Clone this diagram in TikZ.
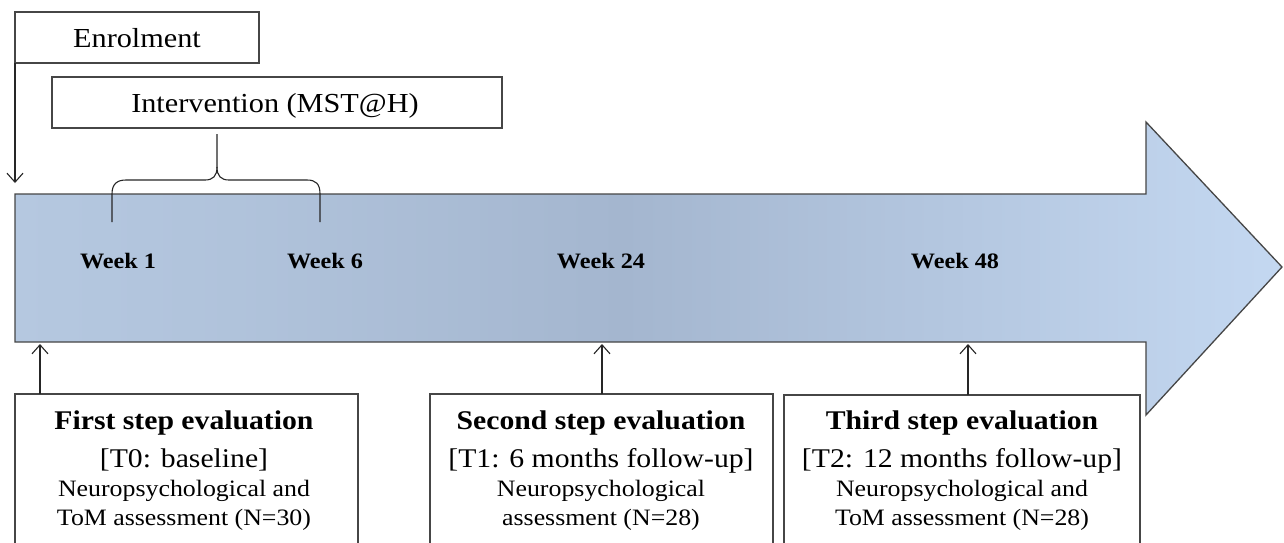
\documentclass[tikz,border=0pt]{standalone}
\usepackage{fontspec}
\setmainfont{Liberation Serif}[FakeStretch=1.1]
\usetikzlibrary{arrows.meta}
\definecolor{arrowL}{RGB}{181,200,224}
\definecolor{arrowM}{RGB}{164,182,207}
\definecolor{arrowR}{RGB}{196,216,241}
\definecolor{edge}{RGB}{70,70,70}
\pgfdeclarehorizontalshading{arrowsh}{100bp}{color(0bp)=(arrowL); color(25bp)=(arrowL); color(34bp)=(arrowL!70!arrowM); color(49bp)=(arrowM); color(75bp)=(arrowR); color(100bp)=(arrowR)}
\begin{document}
\begin{tikzpicture}[x=1pt,y=-1pt,
  boxst/.style={draw=edge, line width=1.3pt, fill=white, inner sep=0pt, outer sep=0pt},
  bracest/.style={draw=black!85, line width=1.1pt},
  tipst/.style={draw=black!85, line width=1.1pt, -{Straight Barb[length=9pt,width=16pt,line width=1.1pt]}},
  wk/.style={font=\bfseries\fontsize{22}{26}\selectfont, anchor=base},
  headst/.style={font=\bfseries\fontsize{27}{32}\selectfont, anchor=base},
  subst/.style={font=\fontsize{27}{32}\selectfont, anchor=base},
  bodyst/.style={font=\fontsize{23.5}{28}\selectfont, anchor=base},
  topst/.style={font=\fontsize{27.5}{32}\selectfont, anchor=base}]
\clip (0,0) rectangle (1284,542);
\fill[white] (0,0) rectangle (1284,542);
% big arrow
\path[shading=arrowsh] (15,194) -- (1146,194) -- (1146,122) -- (1282,267) -- (1146,415) -- (1146,342) -- (15,342) -- cycle;
\draw[draw=edge, line width=1.3pt, line join=miter]
  (15,194) -- (1146,194) -- (1146,122) -- (1282,267) -- (1146,415) -- (1146,342) -- (15,342) -- cycle;
\coordinate (enr) at (15,183);
\coordinate (a1) at (40,344);
\coordinate (a2) at (602,344);
\coordinate (a3) at (968,344);
% top boxes
\node[boxst, minimum width=244pt, minimum height=51pt, anchor=north west] (enrol) at (15,12) {};
\node[topst] (enrolt) at (137,47) {Enrolment};
\node[boxst, minimum width=450pt, minimum height=51pt, anchor=north west] (inter) at (52,77) {};
\node[topst] (intert) at (275,112) {Intervention (MST@H)};
\draw[tipst] (enrol.south west) -- (enr);
% brace
\coordinate (bt) at (217,134);
\draw[bracest] (bt) -- (217,167) .. controls (217,176) and (213,180) .. (205,180) -- (126,180)
  .. controls (117,180) and (112,184) .. (112,194) -- (112,222);
\draw[bracest] (217,167) .. controls (217,176) and (221,180) .. (229,180) -- (307,180)
  .. controls (316,180) and (320,184) .. (320,194) -- (320,222);
% week labels
\node[wk] (w1) at (118,268) {Week 1};
\node[wk] (w6) at (325,268) {Week 6};
\node[wk] (w24) at (601,268) {Week 24};
\node[wk] (w48) at (955,268) {Week 48};
% bottom boxes
\node[boxst, minimum width=343pt, minimum height=170pt, anchor=north west] (b1) at (15,394) {};
\node[boxst, minimum width=343pt, minimum height=170pt, anchor=north west] (b2) at (430,394) {};
\node[boxst, minimum width=356pt, minimum height=170pt, anchor=north west] (b3) at (784,395) {};
\draw[tipst] ([xshift=25pt]b1.north west) -- (a1);
\draw[tipst] ([xshift=172pt]b2.north west) -- (a2);
\draw[tipst] ([xshift=184pt]b3.north west) -- (a3);
% box texts
\node[headst] (b1h) at (184,429) {First step evaluation};
\node[subst] (b1s) at (184,467) {[T0: baseline]};
\node[bodyst] (b1a) at (184,496) {Neuropsychological and};
\node[bodyst] (b1b) at (184,525) {ToM assessment (N=30)};
\node[headst] (b2h) at (601,429) {Second step evaluation};
\node[subst] (b2s) at (601,467) {[T1: 6 months follow-up]};
\node[bodyst] (b2a) at (601,496) {Neuropsychological};
\node[bodyst] (b2b) at (601,525) {assessment (N=28)};
\node[headst] (b3h) at (962,429) {Third step evaluation};
\node[subst] (b3s) at (962,467) {[T2: 12 months follow-up]};
\node[bodyst] (b3a) at (962,496) {Neuropsychological and};
\node[bodyst] (b3b) at (962,525) {ToM assessment (N=28)};
\end{tikzpicture}
\end{document}
